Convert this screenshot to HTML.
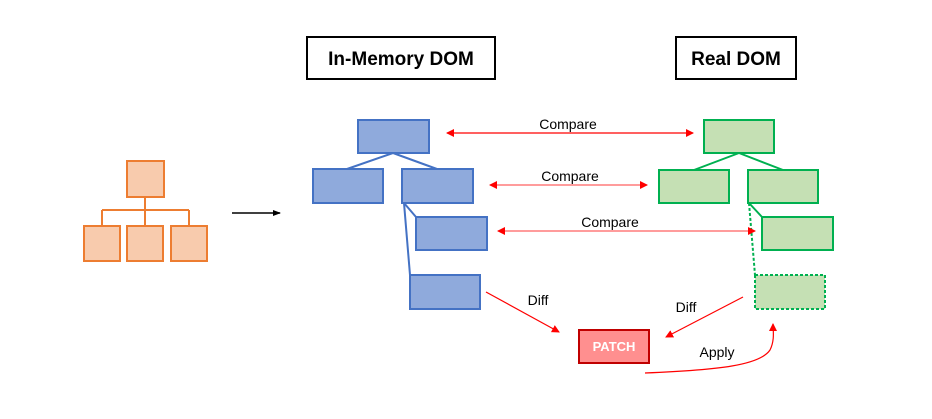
<!DOCTYPE html>
<html><head><style>html,body{margin:0;padding:0;background:#fff;}svg{display:block}</style></head>
<body>
<svg width="932" height="419" xmlns="http://www.w3.org/2000/svg" font-family="Liberation Sans, sans-serif">
<defs>
<marker id="ar" markerWidth="8" markerHeight="8" refX="7" refY="4" orient="auto" markerUnits="userSpaceOnUse"><path d="M0,0 L8,4 L0,8 z" fill="#ff0000"/></marker>
<marker id="al" markerWidth="8" markerHeight="8" refX="1" refY="4" orient="auto" markerUnits="userSpaceOnUse"><path d="M8,0 L0,4 L8,8 z" fill="#ff0000"/></marker>
<marker id="ab" markerWidth="8" markerHeight="8" refX="7" refY="4" orient="auto" markerUnits="userSpaceOnUse"><path d="M0,1 L8,4 L0,7 z" fill="#000"/></marker>
</defs>
<g stroke="#ed7d31" stroke-width="2" fill="#f8cbad">
<path d="M145,197 V210 M102,210 H189 M102,210 V226 M145,210 V226 M189,210 V226" fill="none"/>
<rect x="127" y="161" width="37" height="36"/>
<rect x="84" y="226" width="36" height="35"/>
<rect x="127" y="226" width="36" height="35"/>
<rect x="171" y="226" width="36" height="35"/>
</g>
<line x1="232" y1="213" x2="280" y2="213" stroke="#000" stroke-width="1.5" marker-end="url(#ab)"/>
<rect x="307" y="37" width="188" height="42" fill="#fff" stroke="#000" stroke-width="2"/>
<text x="401" y="65" text-anchor="middle" font-size="19" font-weight="bold">In-Memory DOM</text>
<rect x="676" y="37" width="120" height="42" fill="#fff" stroke="#000" stroke-width="2"/>
<text x="736" y="65" text-anchor="middle" font-size="19" font-weight="bold">Real DOM</text>
<g stroke="#4472c4" stroke-width="2" fill="#8faadc">
<path d="M393,153 L347,169 M393,153 L437,169 M404,203 L416,217 M404,203 L410,275" fill="none"/>
<rect x="358" y="120" width="71" height="33"/>
<rect x="313" y="169" width="70" height="34"/>
<rect x="402" y="169" width="71" height="34"/>
<rect x="416" y="217" width="71" height="33"/>
<rect x="410" y="275" width="70" height="34"/>
</g>
<g stroke="#00b050" stroke-width="2" fill="#c5e0b4">
<path d="M739,153 L694,170 M739,153 L783,170 M749,203 L762,217" fill="none"/>
<path d="M749,203 L755,275" fill="none" stroke-dasharray="3,2"/>
<rect x="704" y="120" width="70" height="33"/>
<rect x="659" y="170" width="70" height="33"/>
<rect x="748" y="170" width="70" height="33"/>
<rect x="762" y="217" width="71" height="33"/>
<rect x="755" y="275" width="70" height="34" stroke-dasharray="3,2"/>
</g>
<g stroke="#ff0000" stroke-width="1.2" fill="none">
<line x1="447" y1="133" x2="693" y2="133" marker-start="url(#al)" marker-end="url(#ar)"/>
<line x1="490" y1="185" x2="647" y2="185" marker-start="url(#al)" marker-end="url(#ar)" stroke="#ff6060"/>
<line x1="498" y1="231" x2="755" y2="231" marker-start="url(#al)" marker-end="url(#ar)" stroke="#ff6060"/>
<line x1="486" y1="292" x2="559" y2="332" marker-end="url(#ar)"/>
<line x1="743" y1="297" x2="666" y2="337" marker-end="url(#ar)"/>
<path d="M645,373 C720,370 760,365 770,350 C775,340 773,330 773,324" marker-end="url(#ar)"/>
</g>
<g font-size="14" fill="#000">
<text x="568" y="129" text-anchor="middle">Compare</text>
<text x="570" y="181" text-anchor="middle">Compare</text>
<text x="610" y="227" text-anchor="middle">Compare</text>
<text x="538" y="305" text-anchor="middle">Diff</text>
<text x="686" y="312" text-anchor="middle">Diff</text>
<text x="717" y="357" text-anchor="middle">Apply</text>
</g>
<rect x="579" y="330" width="70" height="33" fill="#ff8f8f" stroke="#c00000" stroke-width="2"/>
<text x="614" y="351" text-anchor="middle" font-size="13" font-weight="bold" fill="#fff">PATCH</text>
</svg>
</body></html>
